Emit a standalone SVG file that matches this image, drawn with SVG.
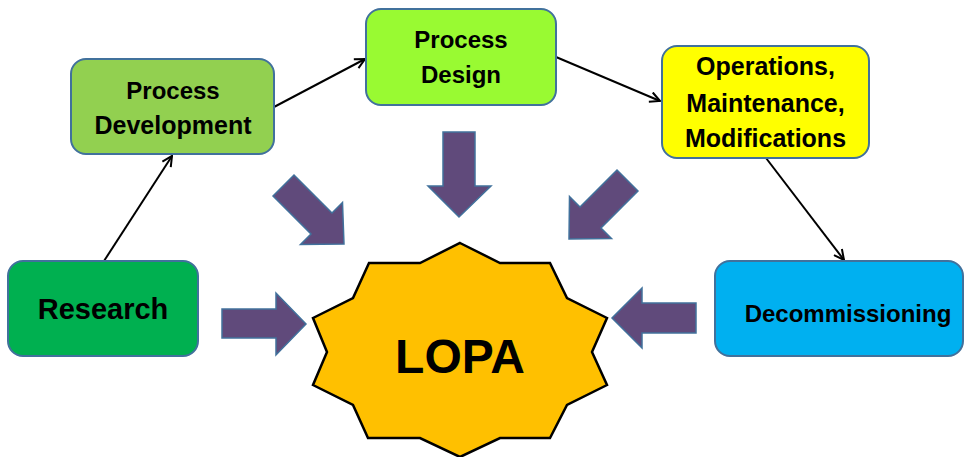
<svg xmlns="http://www.w3.org/2000/svg" width="965" height="457" viewBox="0 0 965 457">
<style>
.box{stroke:#41719C;stroke-width:2}
.lbl{font-family:"Liberation Sans",Arial,sans-serif;font-weight:bold;fill:#000;text-anchor:middle}
.conn{stroke:#000;stroke-width:2;fill:none;marker-end:url(#ah)}
.big{fill:#604A7B;stroke:#41719C;stroke-width:1.5;stroke-linejoin:miter}
</style>
<defs>
<marker id="ah" viewBox="0 0 12 12" refX="11" refY="6" markerWidth="12" markerHeight="12" markerUnits="userSpaceOnUse" orient="auto">
<path d="M1,1 L11,6 L1,11" fill="none" stroke="#000" stroke-width="2"/>
</marker>
</defs>
<rect width="965" height="457" fill="#fff"/>
<g id="connectors">
<line class="conn" x1="104" y1="261" x2="172" y2="156"/>
<line class="conn" x1="274" y1="107" x2="365" y2="59"/>
<line class="conn" x1="556" y1="57" x2="660" y2="101"/>
<line class="conn" x1="766" y1="158" x2="844" y2="260"/>
</g>
<g id="big-arrows">
<polygon class="big" points="222,309 276,309 276,293 306,324 276,355 276,338 222,338"/>
<polygon class="big" points="696,303 642,303 642,288 612,318 642,348 642,333 696,333"/>
<polygon class="big" points="443,132 475,132 475,186 491,186 459,217 428,186 443,186"/>
<polygon class="big" points="273,196 294,175 332,213 342.5,202.5 344,244 300.5,244.5 311,234"/>
<polygon class="big" points="638,191 617,170 580,207 569.5,196.5 569,239 611.5,238.5 601,228"/>
</g>
<g id="lopa">
<polygon points="460,243 500,263 550,263 567,298 607,318 592,352 607,385 567,405 550,438 500,438 460,457 420,438 368,438 353,405 313,385 327,352 313,318 353,298 369,263 420,263" fill="#FFC000" stroke="#000" stroke-width="2.5" stroke-linejoin="miter"/>
<text class="lbl" x="460" y="373" font-size="48">LOPA</text>
</g>
<g id="research">
<rect class="box" x="8" y="261" width="190" height="95" rx="15" fill="#00B050"/>
<text class="lbl" x="103" y="319" font-size="29">Research</text>
</g>
<g id="process-development">
<rect class="box" x="71" y="59" width="203" height="95" rx="15" fill="#92D050"/>
<text class="lbl" x="173" y="99" font-size="24">Process</text>
<text class="lbl" x="173" y="134" font-size="25">Development</text>
</g>
<g id="process-design">
<rect class="box" x="366" y="9" width="190" height="96" rx="15" fill="#99FA32"/>
<text class="lbl" x="461" y="48" font-size="24">Process</text>
<text class="lbl" x="461" y="83" font-size="24">Design</text>
</g>
<g id="operations">
<rect class="box" x="662" y="46" width="207" height="112" rx="15" fill="#FFFF00"/>
<text class="lbl" x="765.5" y="75" font-size="25">Operations,</text>
<text class="lbl" x="765.5" y="112" font-size="25">Maintenance,</text>
<text class="lbl" x="765.5" y="147" font-size="25">Modifications</text>
</g>
<g id="decommissioning">
<rect class="box" x="715" y="261" width="248" height="95" rx="15" fill="#00B0F0"/>
<text class="lbl" x="848" y="322" font-size="24">Decommissioning</text>
</g>
</svg>
